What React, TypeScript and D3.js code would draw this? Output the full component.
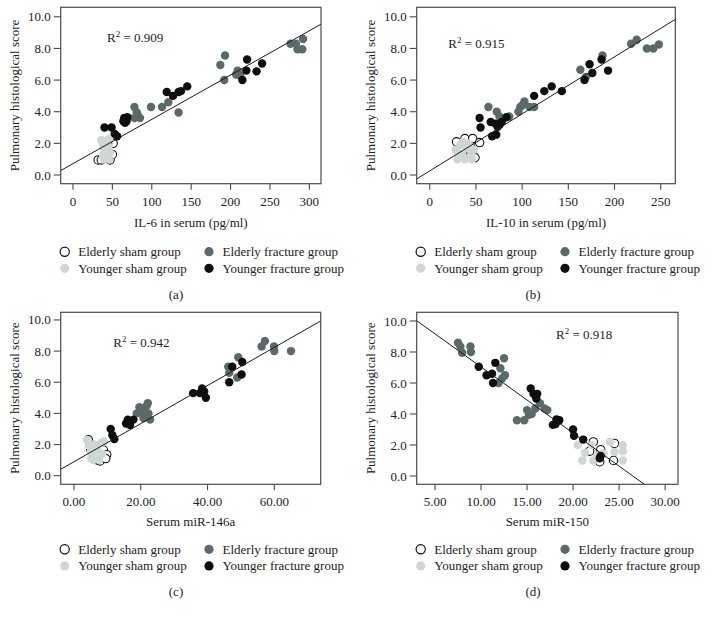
import React from 'react';
import * as d3 from 'd3';

type Pt = [number, number];

// ---------- data ----------
const il6ElderlySham: Pt[] = [[32,0.95],[36,0.95],[47,0.95],[51,2.0],[50,1.3],[44,2.0],[42,1.5],[40,1.8]];
const il6YoungerSham: Pt[] = [[36,2.2],[38,1.9],[40,1.5],[42,2.1],[44,1.2],[45,1.8],[46,1.0],[43,1.4],[39,1.0],[46,2.3],[41,1.7],[47,1.4],[38,1.2]];
const il6ElderlyFracture: Pt[] = [[78,4.3],[81,3.95],[78,3.6],[85,3.6],[82,3.8],[99,4.3],[113,4.3],[121,4.6],[134,3.95],[187,6.95],[193,7.55],[192,6.0],[207,6.35],[209,6.6],[212,6.3],[276,8.3],[283,8.3],[285,7.95],[291,7.95],[292,8.6]];
const il6YoungerFracture: Pt[] = [[40,3.0],[49,3.0],[53,2.6],[56,2.45],[65,3.6],[66,3.3],[68,3.4],[69,3.65],[64,3.4],[119,5.25],[127,5.0],[134,5.25],[137,5.3],[145,5.6],[215,6.0],[220,6.6],[221,7.3],[233,6.55],[240,7.05]];

const il10ElderlySham: Pt[] = [[29,2.1],[38,2.3],[46.5,2.3],[54,2.05],[36,1.5],[44,1.8],[49,1.1]];
const il10YoungerSham: Pt[] = [[28,1.6],[30,1.0],[33,1.9],[35,1.3],[38,1.0],[40,1.7],[42,2.0],[44,1.2],[46,1.0],[48,1.6],[36,2.1],[31,1.4]];
const il10ElderlyFracture: Pt[] = [[63.5,4.3],[72.5,4.0],[75.5,3.7],[86,3.7],[96,4.0],[98,4.3],[102.5,4.65],[108,4.3],[113,4.3],[100,4.4],[163,6.65],[169,6.2],[187,7.55],[218,8.3],[224,8.55],[235,8.0],[242,8.0],[248,8.25]];
const il10YoungerFracture: Pt[] = [[55,3.0],[54,3.6],[66,3.35],[67.5,2.45],[72,2.55],[71,3.25],[73.5,3.05],[76,3.2],[78,3.35],[83,3.65],[113,5.0],[124,5.3],[132,5.6],[143,5.3],[167.5,6.0],[173,7.0],[176,6.45],[186,7.3],[193,6.6]];

const mir146ElderlySham: Pt[] = [[4.3,2.3],[5,1.7],[7.1,1.0],[7.8,0.95],[8.8,1.65],[9.8,1.35],[9.5,1.1],[6,1.2]];
const mir146YoungerSham: Pt[] = [[4,2.3],[4.5,1.9],[5,1.5],[5.2,1.1],[6,2.0],[6.5,1.3],[7,1.7],[7.5,1.0],[8,2.1],[8.5,1.4],[9,2.2],[5.8,1.0]];
const mir146ElderlyFracture: Pt[] = [[18.8,4.0],[19.6,4.4],[20.8,3.7],[21.8,4.5],[22.1,4.65],[22.8,3.6],[20.3,4.1],[22.3,4.0],[21.0,4.3],[46.2,7.0],[46.5,6.6],[48.9,6.3],[49.2,7.6],[56.2,8.3],[57.2,8.65],[59.9,8.3],[60,8.0],[65,8.0]];
const mir146YoungerFracture: Pt[] = [[11,3.0],[11.5,2.6],[12.1,2.35],[15.6,3.35],[16.1,3.6],[16.8,3.25],[17.8,3.6],[35.7,5.3],[37.7,5.3],[38.4,5.6],[39,5.4],[39.5,5.0],[46.5,6.0],[47.4,7.0],[50.2,6.5],[50.4,7.3]];

const mir150ElderlySham: Pt[] = [[22.2,2.2],[24.5,2.1],[24.4,1.0],[22.9,0.92],[21.8,1.6],[23,1.7]];
const mir150YoungerSham: Pt[] = [[20.5,2.0],[21,1.0],[21.3,1.5],[22,2.0],[22.2,1.0],[23.3,1.45],[24,2.2],[24.5,1.55],[25.4,2.0],[25.4,1.6],[25.4,1.0],[22.6,1.3]];
const mir150ElderlyFracture: Pt[] = [[7.5,8.6],[7.75,8.35],[7.95,7.95],[8.85,8.35],[8.9,8.0],[12.5,7.6],[12.1,6.95],[12.3,6.3],[11.9,6.0],[12.6,6.5],[13.9,3.6],[14.7,3.6],[15.0,4.25],[15.2,3.95],[15.9,4.35],[15.5,4.0],[16.4,4.7],[16.9,4.35],[17.2,4.25]];
const mir150YoungerFracture: Pt[] = [[9.75,7.05],[10.6,6.5],[11.2,6.6],[11.55,7.3],[11.3,6.0],[15.4,5.65],[15.7,5.3],[16.1,5.3],[16.0,5.0],[17.8,3.3],[18.2,3.65],[18.1,3.35],[18.5,3.6],[20.0,3.0],[20.1,2.6],[21.1,2.35],[23.0,1.3],[22.9,1.15]];

const lineIntercepts = [0.717, 0.258, 0.897, 11.30];
const lineSlopes = [0.028, 0.03605, 0.1223, -0.4265];
const r2Values = ['0.909', '0.915', '0.942', '0.918'];
const xTitles = ['IL-6 in serum (pg/ml)', 'IL-10 in serum (pg/ml)', 'Serum miR-146a', 'Serum miR-150'];
const xTickValues = [[0, 50, 100, 150, 200, 250, 300], [0, 50, 100, 150, 200, 250], [0, 20, 40, 60], [5, 10, 15, 20, 25, 30]];
const yTickValues = [0, 2, 4, 6, 8, 10];
const panelLetters = ['(a)', '(b)', '(c)', '(d)'];
const groupNames = ['Elderly sham group', 'Elderly fracture group', 'Younger sham group', 'Younger fracture group'];
const yTitle = 'Pulmonary histological score';

// ---------- layout ----------
const FONT = '"Liberation Serif", "Times New Roman", serif';
const colors = { eSham: '#ffffff', ySham: '#d0d6d5', eFrac: '#5c6969', yFrac: '#0e0e0e' };

const panels = [
  { data: [il6ElderlySham, il6YoungerSham, il6ElderlyFracture, il6YoungerFracture], left: 60.7, right: 321, top: 7.3, bottom: 183.7, xDom: [-15.6, 314.8], yDom: [-0.55, 10.6], fmt: d3.format('d'), r2: [107, 41.5], titleY: 227, legY: 251.7, subY: 298.5, subX: 176, off: 0 },
  { data: [il10ElderlySham, il10YoungerSham, il10ElderlyFracture, il10YoungerFracture], left: 416.7, right: 675.3, top: 7.3, bottom: 183.7, xDom: [-14.1, 265.8], yDom: [-0.55, 10.6], fmt: d3.format('d'), r2: [448.3, 48], titleY: 227, legY: 251.7, subY: 298.5, subX: 533, off: 356 },
  { data: [mir146ElderlySham, mir146YoungerSham, mir146ElderlyFracture, mir146YoungerFracture], left: 60.7, right: 320.7, top: 312.3, bottom: 484.3, xDom: [-3.98, 73.9], yDom: [-0.552, 10.49], fmt: d3.format('.2f'), r2: [113.3, 347], titleY: 526, legY: 549.3, subY: 596, subX: 176, off: 0 },
  { data: [mir150ElderlySham, mir150YoungerSham, mir150ElderlyFracture, mir150YoungerFracture], left: 416.7, right: 678, top: 312.3, bottom: 484.3, xDom: [3.01, 31.4], yDom: [-0.535, 10.56], fmt: d3.format('.2f'), r2: [556, 339], titleY: 526, legY: 549.3, subY: 596, subX: 533, off: 356 },
];

const fills = [colors.eSham, colors.ySham, colors.eFrac, colors.yFrac];

function Panel({ i }: { i: number }) {
  const p = panels[i];
  const x = d3.scaleLinear().domain(p.xDom).range([p.left, p.right]);
  const y = d3.scaleLinear().domain(p.yDom).range([p.bottom, p.top]);
  const line = d3.line<number>().x(v => x(v)).y(v => y(lineIntercepts[i] + lineSlopes[i] * v));
  const clipId = `clip${i}`;
  const cx = (p.left + p.right) / 2;
  const cy = (p.top + p.bottom) / 2;
  const legX0 = 64.7 + p.off;
  const legX1 = 209 + p.off;
  const legendItems = [
    { name: groupNames[0], fill: colors.eSham, col: 0, row: 0 },
    { name: groupNames[1], fill: colors.eFrac, col: 1, row: 0 },
    { name: groupNames[2], fill: colors.ySham, col: 0, row: 1 },
    { name: groupNames[3], fill: colors.yFrac, col: 1, row: 1 },
  ];
  return (
    <g>
      <defs>
        <clipPath id={clipId}>
          <rect x={p.left} y={p.top} width={p.right - p.left} height={p.bottom - p.top} />
        </clipPath>
      </defs>
      <g clipPath={`url(#${clipId})`}>
        {p.data.map((grp, gi) => grp.map((d, k) => (
          <circle key={`${gi}-${k}`} cx={x(d[0])} cy={y(d[1])} r={4.2}
            fill={fills[gi]} stroke={gi === 0 ? '#111' : 'none'} strokeWidth={gi === 0 ? 1.1 : 0} />
        )))}
        <path d={line(p.xDom) || ''} stroke="#1a1a1a" strokeWidth={1} fill="none" />
      </g>
      <rect x={p.left} y={p.top} width={p.right - p.left} height={p.bottom - p.top} fill="none" stroke="#4a4a4a" strokeWidth={1.2} />
      {yTickValues.map(t => (
        <g key={`y${t}`}>
          <line x1={p.left - 7} x2={p.left} y1={y(t)} y2={y(t)} stroke="#4a4a4a" strokeWidth={1.1} />
          <text x={p.left - 10} y={y(t)} dy="0.35em" textAnchor="end" fontSize={13} fontFamily={FONT} fill="#222">{d3.format('.1f')(t)}</text>
        </g>
      ))}
      {xTickValues[i].map(t => (
        <g key={`x${t}`}>
          <line x1={x(t)} x2={x(t)} y1={p.bottom} y2={p.bottom + 6} stroke="#4a4a4a" strokeWidth={1.1} />
          <text x={x(t)} y={p.bottom + 22} textAnchor="middle" fontSize={13} fontFamily={FONT} fill="#222">{p.fmt(t)}</text>
        </g>
      ))}
      <text transform={`translate(${18.5 + p.off},${cy}) rotate(-90)`} textAnchor="middle" fontSize={13} fontFamily={FONT} fill="#222">{yTitle}</text>
      <text x={cx} y={p.titleY} textAnchor="middle" fontSize={13} fontFamily={FONT} fill="#222">{xTitles[i]}</text>
      <text x={p.r2[0]} y={p.r2[1]} fontSize={13} fontFamily={FONT} fill="#222">R<tspan dy={-5} fontSize={9}>2</tspan><tspan dy={5}> = {r2Values[i]}</tspan></text>
      {legendItems.map(it => {
        const mx = it.col === 0 ? legX0 : legX1;
        const my = p.legY + it.row * 16.6;
        return (
          <g key={it.name}>
            <circle cx={mx} cy={my} r={4.6} fill={it.fill} stroke={it.fill === colors.eSham ? '#111' : 'none'} strokeWidth={1.2} />
            <text x={mx + 13.5} y={my} dy="0.35em" fontSize={13} fontFamily={FONT} fill="#222">{it.name}</text>
          </g>
        );
      })}
      <text x={p.subX} y={p.subY} textAnchor="middle" fontSize={13} fontFamily={FONT} fill="#222">{panelLetters[i]}</text>
    </g>
  );
}

export default function App() {
  return (
    <svg width={713} height={617} style={{ position: 'absolute', left: 0, top: 0, background: '#fff' }}>
      <rect width={713} height={617} fill="#fff" />
      {panels.map((_, i) => <Panel key={i} i={i} />)}
    </svg>
  );
}
